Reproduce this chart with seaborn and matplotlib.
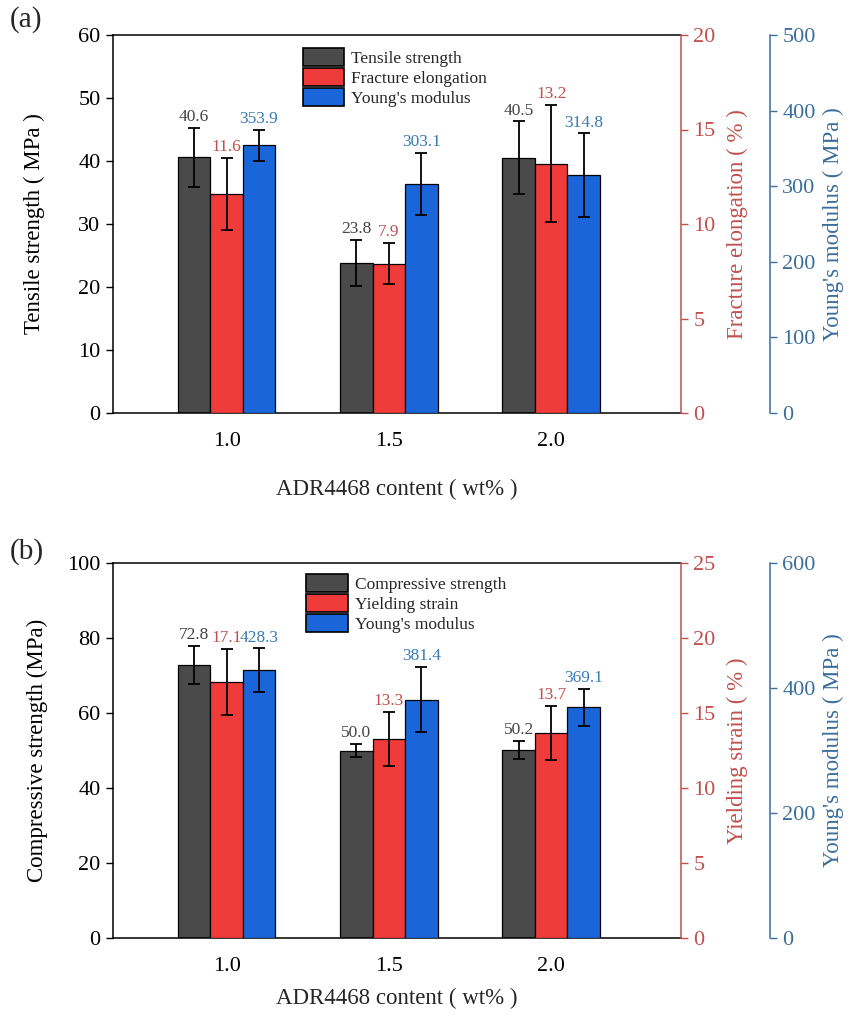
import numpy as np
import pandas as pd
import matplotlib
matplotlib.use("Agg")
import matplotlib.pyplot as plt
import seaborn as sns
from matplotlib.patches import Patch

# ---------------- data ----------------
contents = ["1.0", "1.5", "2.0"]

# panel (a)
names_a = ["Tensile strength", "Fracture elongation", "Young's modulus"]
tensile = [40.6, 23.8, 40.5]
tensile_err = [4.7, 3.7, 5.8]
elongation = [11.6, 7.9, 13.2]
elongation_err = [1.9, 1.1, 3.1]
modulus_a = [353.9, 303.1, 314.8]
modulus_a_err = [21, 41, 55]

# panel (b)
names_b = ["Compressive strength", "Yielding strain", "Young's modulus"]
compressive = [72.8, 50.0, 50.2]
compressive_err = [5.0, 1.8, 2.4]
yielding = [17.1, 13.3, 13.7]
yielding_err = [2.2, 1.8, 1.8]
modulus_b = [428.3, 381.4, 369.1]
modulus_b_err = [35, 52, 30]

# ---------------- style ----------------
sns.set_style("ticks")
plt.rcParams["font.family"] = ["Liberation Serif", "DejaVu Serif"]

bar_colors = ["#4a4a4a", "#f03b3b", "#1a66d8"]
axis_colors = ["black", "#c0504d", "#3a6e9c"]
value_colors = ["#444444", "#c0504d", "#3a7ab5"]

fig = plt.figure(figsize=(8.54, 10.19), dpi=100)
W, H = 854, 1019


def panel(top_px, bottom_px, letter, letter_y, names, vals, errs, ylabels,
          ylims, ysteps, legend_xy, xlabelpad, ylabelpad):
    left_px, right_px = 113, 681
    rect = [left_px / W, 1 - bottom_px / H, (right_px - left_px) / W,
            (bottom_px - top_px) / H]
    ax0 = fig.add_axes(rect)
    ax1 = ax0.twinx()
    ax2 = ax0.twinx()
    axes = [ax0, ax1, ax2]

    for i, ax in enumerate(axes):
        rows = []
        for j, name in enumerate(names):
            for k, c in enumerate(contents):
                rows.append({"content": c, "series": name,
                             "value": vals[j][k] if j == i else np.nan})
        df = pd.DataFrame(rows)
        sns.barplot(data=df, x="content", y="value", hue="series",
                    order=contents, hue_order=names,
                    palette=dict(zip(names, bar_colors)), saturation=1,
                    width=0.6, errorbar=None, edgecolor="black",
                    linewidth=0.9, legend=False, ax=ax, zorder=2)
        bars = [p for p in ax.patches
                if np.isfinite(p.get_height()) and p.get_height() > 0]
        xc = [p.get_x() + p.get_width() / 2 for p in bars]
        ax.errorbar(xc, vals[i], yerr=errs[i], fmt="none", ecolor="black",
                    elinewidth=1.3, capsize=4, capthick=1.3, zorder=3)
        for x, v, e in zip(xc, vals[i], errs[i]):
            ax.annotate(f"{v:.1f}", (x, v + e), xytext=(0, 2),
                        textcoords="offset points", ha="center", va="bottom",
                        fontsize=12.5, color=value_colors[i])
        ax.set_ylim(*ylims[i])
        ax.set_yticks(np.arange(ylims[i][0], ylims[i][1] + 1e-9, ysteps[i]))
        ax.set_xlabel("")
        ax.set_ylabel(ylabels[i], fontsize=16.5, color=axis_colors[i])
        ax.tick_params(axis="y", direction="out", length=5, width=1,
                       labelsize=16, colors=axis_colors[i], pad=4)
        for s in ax.spines.values():
            s.set_visible(False)

    # spines
    for s in ["left", "bottom", "top"]:
        ax0.spines[s].set_visible(True)
        ax0.spines[s].set_color("black")
        ax0.spines[s].set_linewidth(1.1)
    ax1.spines["right"].set_visible(True)
    ax1.spines["right"].set_color(axis_colors[1])
    ax1.spines["right"].set_linewidth(1.1)
    ax2.spines["right"].set_visible(True)
    ax2.spines["right"].set_position(("outward", 64))
    ax2.spines["right"].set_color(axis_colors[2])
    ax2.spines["right"].set_linewidth(1.1)

    ax0.set_xlim(-0.70, 2.80)
    ax0.tick_params(axis="x", length=0, labelsize=16, pad=14, colors="black")
    ax0.set_xlabel("ADR4468 content ( wt% )", fontsize=16.5,
                   labelpad=xlabelpad)
    ax0.yaxis.labelpad = ylabelpad
    ax1.yaxis.labelpad = 8
    ax2.yaxis.labelpad = 5

    handles = [Patch(facecolor=c, edgecolor="black", linewidth=1.2)
               for c in bar_colors]
    ax2.legend(handles, names, loc="upper left", bbox_to_anchor=legend_xy,
               bbox_transform=ax0.transAxes, frameon=False, fontsize=12.5,
               handlelength=2.4, handleheight=1.25, labelspacing=0.05,
               handletextpad=0.4, borderpad=0, borderaxespad=0)

    fig.text(10 / W, 1 - letter_y / H, letter, fontsize=21, ha="left",
             va="center")


panel(35, 413, "(a)", 20, names_a,
      [tensile, elongation, modulus_a],
      [tensile_err, elongation_err, modulus_a_err],
      ["Tensile strength ( MPa )", "Fracture elongation ( % )",
       "Young's modulus ( MPa )"],
      [(0, 60), (0, 20), (0, 500)], [10, 5, 100], (0.334, 0.966), 20, 24)

panel(563, 938, "(b)", 552, names_b,
      [compressive, yielding, modulus_b],
      [compressive_err, yielding_err, modulus_b_err],
      ["Compressive strength (MPa)", "Yielding strain ( % )",
       "Young's modulus ( MPa )"],
      [(0, 100), (0, 25), (0, 600)], [20, 5, 200], (0.34, 0.971), 8, 14)

fig.savefig("out.png", dpi=100)
